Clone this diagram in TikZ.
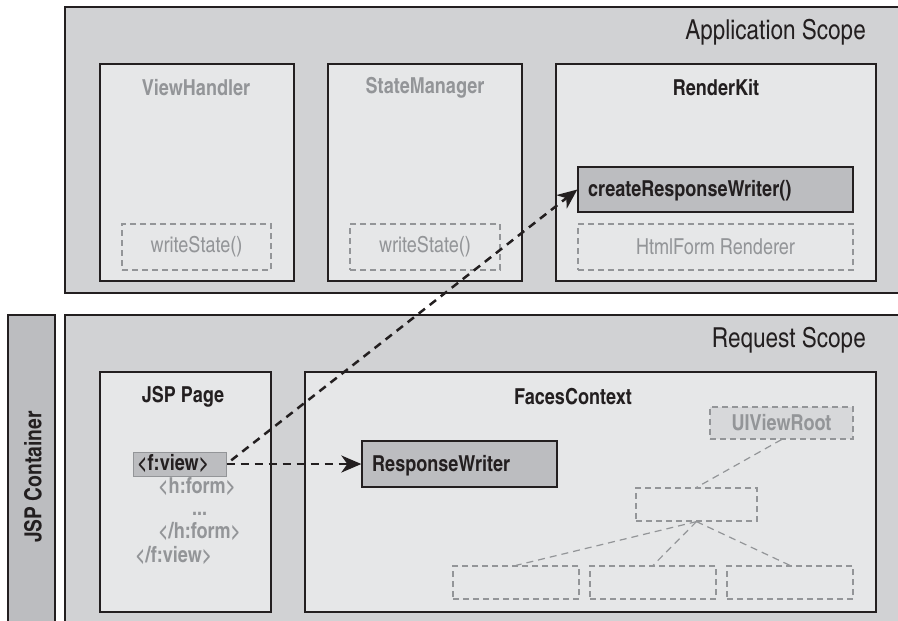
\documentclass[tikz,border=0pt]{standalone}
\usepackage{fontspec}
\setmainfont{texgyreheroscn}[Extension=.otf, UprightFont=*-regular, BoldFont=*-bold]
\usetikzlibrary{arrows.meta}
\definecolor{ink}{HTML}{231F20}
\definecolor{scopefill}{HTML}{D1D2D4}
\definecolor{panelfill}{HTML}{E6E7E8}
\definecolor{darkfill}{HTML}{BCBDC0}
\definecolor{greytext}{HTML}{939598}
\tikzset{
  scopebox/.style={draw=ink, line width=1.3pt, fill=scopefill, inner sep=0pt},
  panel/.style={draw=ink, line width=1.3pt, fill=panelfill, inner sep=0pt},
  darkbox/.style={draw=ink, line width=1.3pt, fill=darkfill, inner sep=0pt},
  ghostbox/.style={draw=greytext, line width=1.2pt, dash pattern=on 6pt off 4pt, inner sep=0pt},
  treeline/.style={draw=greytext, line width=1.2pt, dash pattern=on 7pt off 5pt},
  callarrow/.style={draw=ink, line width=2.5pt, dash pattern=on 8pt off 6pt,
    -{Stealth[length=20pt, width=17pt, inset=6pt]}},
  scopelabel/.style={text=ink, font=\fontsize{27.5}{30}\selectfont, anchor=east, inner sep=0pt},
  title/.style={font=\bfseries\fontsize{22}{25}\selectfont, inner sep=0pt},
  method/.style={font=\fontsize{22}{25}\selectfont, text=greytext, inner sep=0pt},
  code/.style={font=\bfseries\fontsize{22}{25}\selectfont, text=greytext, inner sep=0pt,
    anchor=west, text height=13pt, text depth=3pt},
}
\begin{document}
\begin{tikzpicture}[x=1pt, y=-1pt]
\useasboundingbox (0,0) rectangle (898,621);

% application scope
\node[scopebox, minimum width=837pt, minimum height=286pt] (app) at (483.5,150) {};
\node[scopelabel] (applbl) at (866,32) {Application Scope};

\node[panel, minimum width=194pt, minimum height=217pt] (vh) at (197,172.5) {};
\node[title, text=greytext] (vhlbl) at (196,88) {ViewHandler};
\node[ghostbox, minimum width=149pt, minimum height=46pt] (ws1) at (196.5,247) {};
\node[method] (ws1lbl) at (ws1) {writeState()};

\node[panel, minimum width=194pt, minimum height=217pt] (sm) at (425,172.5) {};
\node[title, text=greytext] (smlbl) at (425,88) {StateManager};
\node[ghostbox, minimum width=150pt, minimum height=46pt] (ws2) at (425,247) {};
\node[method] (ws2lbl) at (ws2) {writeState()};

\node[panel, minimum width=320pt, minimum height=217pt] (rk) at (716,172.5) {};
\node[title, text=ink] (rklbl) at (716,88) {RenderKit};
\node[darkbox, minimum width=275pt, minimum height=45pt] (crw) at (715.5,189.5) {};
\node[title, text=ink, anchor=west] (crwlbl) at (588,191) {createResponseWriter()};
\node[ghostbox, minimum width=275pt, minimum height=46pt] (hfr) at (715.5,247) {};
\node[method] (hfrlbl) at (hfr) {HtmlForm Renderer};

% JSP container strip and request scope
\node[darkbox, minimum width=47pt, minimum height=320pt] (jc) at (31.5,475) {};
\node[title, text=ink, rotate=90, font=\bfseries\fontsize{23.5}{26}\selectfont] (jclbl) at (33,477) {JSP Container};

\node[scopebox, minimum width=837pt, minimum height=320pt] (req) at (483.5,475) {};
\node[scopelabel] (reqlbl) at (866,340) {Request Scope};

\node[panel, minimum width=171pt, minimum height=240pt] (jsp) at (185.5,492) {};
\node[title, text=ink] (jsplbl) at (183,397) {JSP Page};
\node[darkbox, draw=greytext, line width=1pt, minimum width=93pt, minimum height=24pt] (fview) at (179.5,464) {};
\node[code, text=ink] (fviewlbl) at (137,465) {<f:view>};
\node[code] (hform) at (158,488) {<h:form>};
\node[code, text height=4pt, text depth=0pt] (dots) at (192,513) {...};
\node[code] (hformend) at (158,533) {</h:form>};
\node[code] (fviewend) at (135,557) {</f:view>};

\node[panel, minimum width=571pt, minimum height=240pt] (fc) at (590.5,492) {};
\node[title, text=ink] (fclbl) at (573,397) {FacesContext};
\node[darkbox, minimum width=195pt, minimum height=46pt] (rw) at (459.5,464) {};
\node[title, text=ink, anchor=west] (rwlbl) at (372,466) {ResponseWriter};

% component tree
\node[ghostbox, fill=scopefill!70!panelfill, minimum width=143pt, minimum height=32pt] (root) at (781.5,423) {};
\node[title, text=greytext] (rootlbl) at (root) {UIViewRoot};
\node[ghostbox, minimum width=121pt, minimum height=33pt] (mid) at (696.5,504.5) {};
\node[ghostbox, minimum width=126pt, minimum height=33pt] (b1) at (516,582.5) {};
\node[ghostbox, minimum width=126pt, minimum height=33pt] (b2) at (653,582.5) {};
\node[ghostbox, minimum width=126pt, minimum height=33pt] (b3) at (790,582.5) {};
\draw[treeline] (root.south) -- (mid.north);
\draw[treeline] (mid.south) -- (b1.north);
\draw[treeline] (mid.south) -- (b2.north);
\draw[treeline] (mid.south) -- (b3.north);

% calls from the view tag
\draw[callarrow] (fview.east) -- (rw.west);
\draw[callarrow, shorten <=6pt] (fview.east) -- (crw.west);
\end{tikzpicture}
\end{document}
